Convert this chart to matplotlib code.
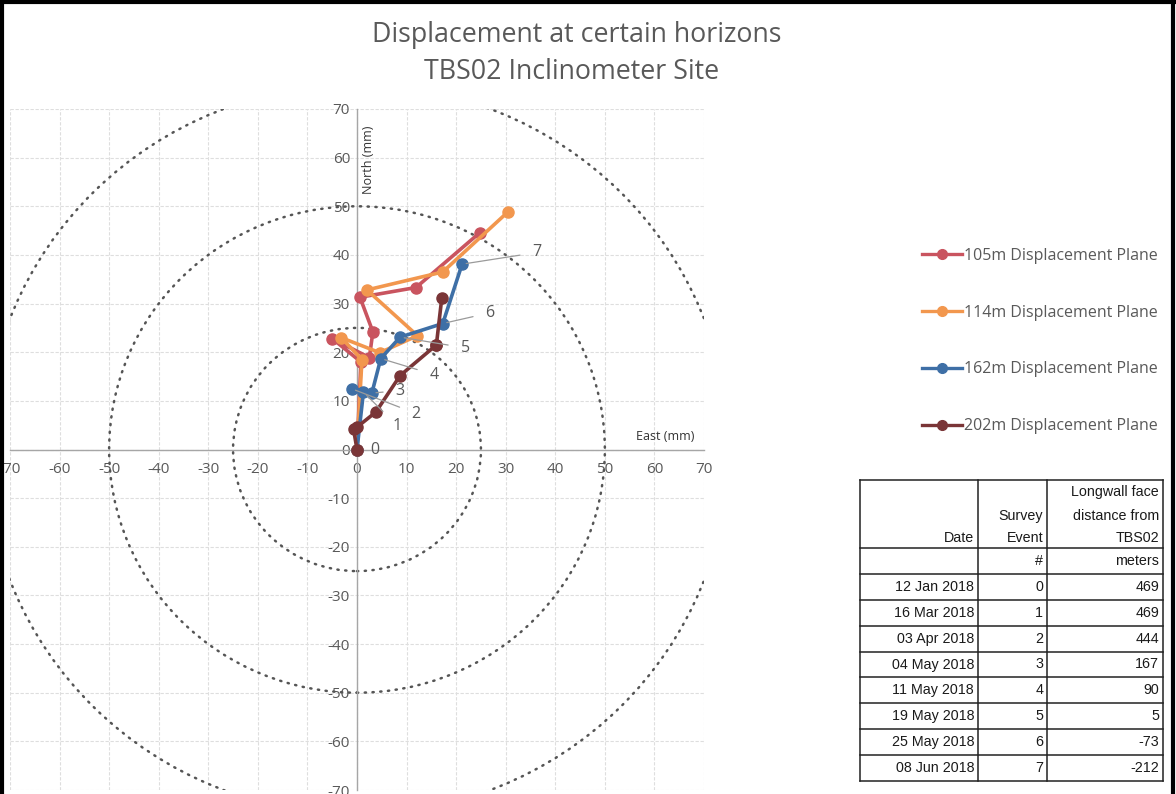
import matplotlib
matplotlib.use("Agg")
import matplotlib.pyplot as plt
from matplotlib.patches import Circle

# ---------------- data ----------------
events = [0, 1, 2, 3, 4, 5, 6, 7]
series_names = ["105m Displacement Plane", "114m Displacement Plane",
                "162m Displacement Plane", "202m Displacement Plane"]
east_105 = [0.0, 0.8, -5.0, 2.5, 3.2, 0.6, 11.9, 24.8]
north_105 = [0.0, 18.0, 22.8, 18.9, 24.2, 31.3, 33.3, 44.6]
east_114 = [0.0, 1.0, -3.2, 4.6, 12.2, 2.0, 17.3, 30.4]
north_114 = [0.0, 18.5, 23.0, 19.9, 23.4, 32.8, 36.5, 48.8]
east_162 = [0.0, 1.3, -1.1, 3.0, 4.8, 8.7, 17.3, 21.2]
north_162 = [0.0, 11.8, 12.5, 11.6, 18.7, 23.1, 25.9, 38.1]
east_202 = [0.0, -0.7, 0.0, 3.8, 8.7, 15.9, 16.0, 17.1]
north_202 = [0.0, 4.2, 4.6, 7.7, 15.2, 21.4, 21.4, 31.1]
circle_radii = [25, 50, 75]
axis_ticks = [-70, -60, -50, -40, -30, -20, -10, 0, 10, 20, 30, 40, 50, 60, 70]

table_dates = ["12 Jan 2018", "16 Mar 2018", "03 Apr 2018", "04 May 2018",
               "11 May 2018", "19 May 2018", "25 May 2018", "08 Jun 2018"]
table_events = ["0", "1", "2", "3", "4", "5", "6", "7"]
table_distance = ["469", "469", "444", "167", "90", "5", "-73", "-212"]

# ---------------- style ----------------
colors = ["#C9545F", "#F2974E", "#3E6FA6", "#7A3537"]
TXT = "#595959"
FONT = "Open Sans"
# label placement for the event labels (attached to 162m series)
label_pos = [(3.6, -0.2), (8.1, 4.9), (11.9, 7.4), (8.7, 12.1),
             (15.5, 15.4), (21.8, 20.9), (26.8, 28.1), (36.3, 40.5)]

W, H = 1176, 794
fig = plt.figure(figsize=(W / 100, H / 100), dpi=100)
fig.patch.set_facecolor("white")

ax = fig.add_axes([10 / W, 4 / H, 694 / W, (790 - 109) / H])
ax.set_xlim(-70, 70)
ax.set_ylim(-70, 70)
ax.set_xticks(axis_ticks)
ax.set_yticks(axis_ticks)
ax.set_xticklabels([str(t) for t in axis_ticks])
ax.set_yticklabels([str(t) for t in axis_ticks])
for sp in ["top", "right"]:
    ax.spines[sp].set_visible(False)
for sp in ["left", "bottom"]:
    ax.spines[sp].set_position(("data", 0))
    ax.spines[sp].set_color("#a6a6a6")
    ax.spines[sp].set_linewidth(1.0)
ax.tick_params(length=0, labelsize=11, labelcolor=TXT)
ax.tick_params(axis="x", pad=9)
ax.tick_params(axis="y", pad=5)
for lab in ax.get_xticklabels() + ax.get_yticklabels():
    lab.set_fontfamily(FONT)
ax.grid(True, color="#dedede", linewidth=0.8, linestyle=(0, (3, 1.5)))
ax.set_axisbelow(True)
ax.patch.set_alpha(0)

for r in circle_radii:
    c = Circle((0, 0), r, fill=False, edgecolor="#555555", linewidth=1.8,
               linestyle=(0, (0.5, 2.6)), zorder=1.5)
    c.set_capstyle("round")
    ax.add_patch(c)

all_e = [east_105, east_114, east_162, east_202]
all_n = [north_105, north_114, north_162, north_202]
handles = []
for e, n, col, name in zip(all_e, all_n, colors, series_names):
    h, = ax.plot(e, n, color=col, linewidth=2.6, marker="o", markersize=8,
                 markeredgecolor=col, markerfacecolor=col, label=name, zorder=3,
                 clip_on=False)
    handles.append(h)

# event labels with leader lines (to 162m series points)
for i, ev in enumerate(events):
    px, py = east_162[i], north_162[i]
    lx, ly = label_pos[i]
    if i == 0:
        ax.text(lx, ly, str(ev), fontsize=11.5, color=TXT, family=FONT,
                ha="center", va="center", zorder=4)
        continue
    ax.annotate(str(ev), xy=(px, py), xytext=(lx, ly), fontsize=11.5, color=TXT,
                family=FONT, ha="center", va="center", zorder=4,
                arrowprops=dict(arrowstyle="-", color="#9a9a9a", linewidth=0.9,
                                shrinkA=7, shrinkB=3))

ax.text(2.4, 59.5, "North (mm)", rotation=90, fontsize=9, color="#333333",
        family=FONT, ha="center", va="center")
ax.text(62.1, 2.6, "East (mm)", fontsize=9, color="#333333", family=FONT,
        ha="center", va="center")

# title
fig.text(577 / W, 1 - 35 / H, "Displacement at certain horizons",
         fontsize=19.3, color=TXT, family=FONT, ha="center", va="center")
fig.text(572 / W, 1 - 72 / H, "TBS02 Inclinometer Site",
         fontsize=19.3, color=TXT, family=FONT, ha="center", va="center")

# legend
leg = fig.legend(handles=handles, loc="upper left",
                 bbox_to_anchor=(914 / W, 1 - 240 / H), frameon=False,
                 prop={"family": FONT, "size": 11.5}, labelspacing=2.55,
                 handlelength=2.5, handletextpad=0.1, borderpad=0)
for t in leg.get_texts():
    t.set_color(TXT)
for lh in leg.legend_handles:
    lh.set_markersize(7)
    lh.set_linewidth(2.4)

# ---------------- table ----------------
ov = fig.add_axes([0, 0, 1, 1])
ov.set_xlim(0, W)
ov.set_ylim(H, 0)
ov.axis("off")
ov.patch.set_alpha(0)

col_x = [860, 978, 1047, 1163]
row_y = [480, 548, 574, 600, 626, 652, 677, 703, 729, 755, 781]
lc = "#222222"
for x in col_x:
    ov.plot([x, x], [row_y[0], row_y[-1]], color=lc, linewidth=1.1)
for y in row_y:
    ov.plot([col_x[0], col_x[-1]], [y, y], color=lc, linewidth=1.1)

TF = "Liberation Sans"
ts = 10.3
pad = 4
tc = "#1a1a1a"
ov.text(col_x[1] - pad, 538, "Date", fontsize=ts, family=TF, color=tc, ha="right", va="center")
ov.text(col_x[2] - pad, 516, "Survey", fontsize=ts, family=TF, color=tc, ha="right", va="center")
ov.text(col_x[2] - pad, 538, "Event", fontsize=ts, family=TF, color=tc, ha="right", va="center")
ov.text(col_x[3] - pad, 492, "Longwall face", fontsize=ts, family=TF, color=tc, ha="right", va="center")
ov.text(col_x[3] - pad, 516, "distance from", fontsize=ts, family=TF, color=tc, ha="right", va="center")
ov.text(col_x[3] - pad, 538, "TBS02", fontsize=ts, family=TF, color=tc, ha="right", va="center")
ov.text(col_x[2] - pad, 561, "#", fontsize=ts, family=TF, color=tc, ha="right", va="center")
ov.text(col_x[3] - pad, 561, "meters", fontsize=ts, family=TF, color=tc, ha="right", va="center")
for i in range(len(table_dates)):
    yc = (row_y[i + 2] + row_y[i + 3]) / 2
    ov.text(col_x[1] - pad, yc, table_dates[i], fontsize=ts, family=TF, color=tc, ha="right", va="center")
    ov.text(col_x[2] - pad, yc, table_events[i], fontsize=ts, family=TF, color=tc, ha="right", va="center")
    ov.text(col_x[3] - pad, yc, table_distance[i], fontsize=ts, family=TF, color=tc, ha="right", va="center")

# chart border
ov.plot([1.5, 1.5], [0, H], color="black", linewidth=3)
ov.plot([0, W], [1.5, 1.5], color="black", linewidth=3)
ov.plot([W - 3, W - 3], [0, H], color="black", linewidth=3)

fig.savefig("out.png", dpi=100)
